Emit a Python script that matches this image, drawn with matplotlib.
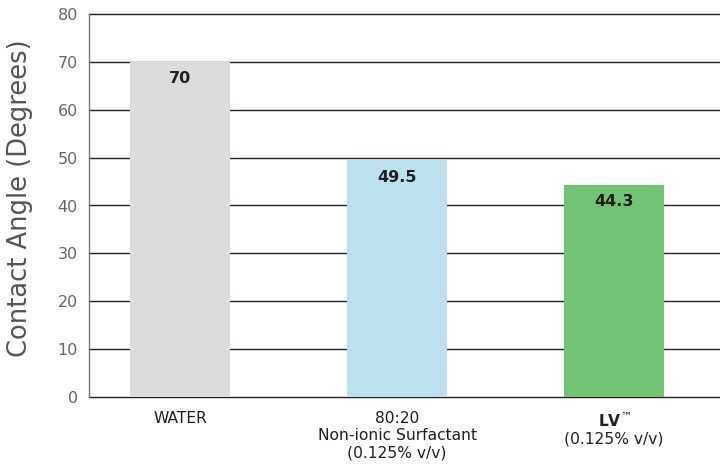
import matplotlib
matplotlib.use("Agg")
import matplotlib.pyplot as plt

categories = ["WATER", "80:20\nNon-ionic Surfactant\n(0.125% v/v)", r"$\mathbf{LV}^{™}$" + "\n(0.125% v/v)"]
values = [70, 49.5, 44.3]
value_labels = ["70", "49.5", "44.3"]
colors = ["#DBDCDE", "#BBE1EF", "#72C373"]
yticks = [0, 10, 20, 30, 40, 50, 60, 70, 80]

plt.rcParams['font.family'] = ['DejaVu Sans']
plt.rcParams['mathtext.fontset'] = 'dejavusans'

fig = plt.figure(figsize=(7.2, 4.71), dpi=100)
ax = fig.add_axes([89/720, 74/471, 1 - 89/720, (397-14)/471])

for t in yticks:
    ax.axhline(t, color='#231F20', linewidth=1, zorder=1, clip_on=False)

x = list(range(len(values)))
ax.bar(x, values, width=0.46, color=colors, zorder=3)
for xi, v, lab in zip(x, values, value_labels):
    ax.text(xi, v - 2.0, lab, ha='center', va='top', fontsize=11.5, fontweight='bold',
            color='#231F20', zorder=4)

ax.set_ylim(0, 80)
ax.set_xlim(-0.419, 2.488)
ax.set_yticks(yticks)
ax.set_yticklabels([str(t) for t in yticks], fontsize=11.5, color='#666666')
ax.set_xticks(x)
ax.set_xticklabels(categories, fontsize=11.2, color='#231F20', linespacing=1.2)
ax.tick_params(axis='both', length=0, pad=8)
ax.tick_params(axis='x', pad=10)
for s in ['top', 'right', 'bottom']:
    ax.spines[s].set_visible(False)
ax.spines['left'].set_color('#777777')
ax.spines['left'].set_linewidth(1)
ax.spines['left'].set_zorder(5)
ax.set_ylabel("Contact Angle (Degrees)", fontsize=18.5, color='#555555')
ax.yaxis.set_label_coords(-0.089, 0.52)

fig.savefig("out.png", dpi=100)
